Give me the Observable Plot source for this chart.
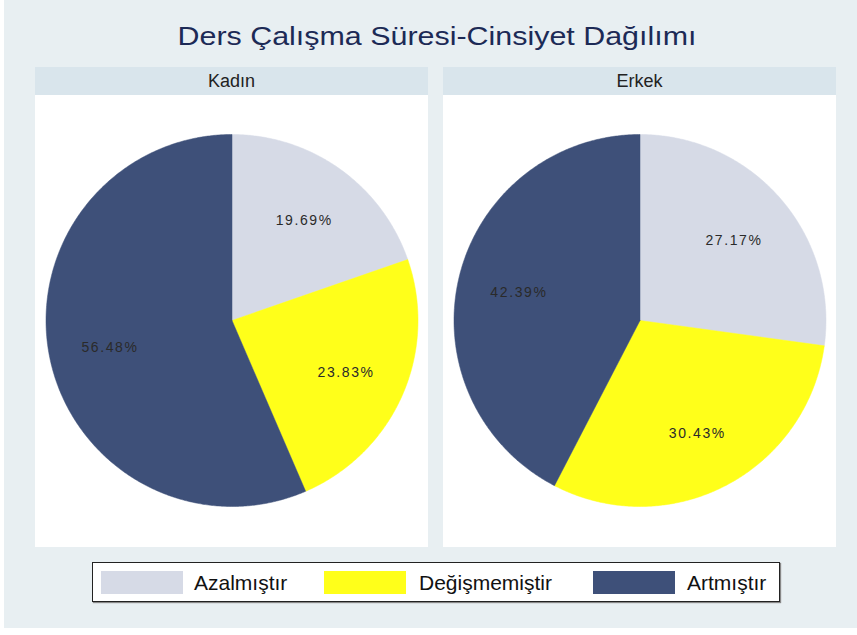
<!DOCTYPE html>
<html><head><meta charset="utf-8">
<script src="https://cdn.jsdelivr.net/npm/d3@7"></script>
<script src="https://cdn.jsdelivr.net/npm/@observablehq/plot@0.6"></script>
<style>
html,body{margin:0;padding:0;background:#fff;}
#page{position:absolute;left:4px;top:0;width:853px;height:628px;background:#e8eff2;font-family:"Liberation Sans",Arial,sans-serif;}
#title{position:absolute;left:0;width:866px;top:21px;line-height:30px;text-align:center;font-size:26px;color:#1c2a56;transform:scaleX(1.17);transform-origin:433px 0;}
.strip{position:absolute;top:67px;height:28px;width:393px;background:#d9e5ec;text-align:center;font-size:18px;line-height:29px;color:#222;}
.panel{position:absolute;top:95px;width:393px;height:452px;background:#fff;}
#legend{position:absolute;left:88px;top:562px;width:686px;height:38px;background:#fff;border:1px solid #222;box-shadow:1px 1px 1px #888;}
.sw{position:absolute;top:8px;width:82px;height:23px;}
.lt{position:absolute;top:8px;font-size:21px;line-height:23px;color:#111;}
</style></head>
<body><div id="page"></div>
<script>
const categories = ["Azalmıştır", "Değişmemiştir", "Artmıştır"];
const colors = ["#d6dae6", "#ffff1a", "#3e5079"];
const groups = ["Kadın", "Erkek"];
const kadinValues = [19.69, 23.83, 56.48];
const erkekValues = [27.17, 30.43, 42.39];
const titleText = "Ders Çalışma Süresi-Cinsiyet Dağılımı";

const page = document.getElementById("page");
const t = document.createElement("div"); t.id = "title"; t.textContent = titleText; page.appendChild(t);

const panelLeft = [31, 439];
const W = 393, H = 452, R = 186;

function pieData(values) {
  const total = d3.sum(values);
  const pts = [], labels = [];
  let acc = 0;
  values.forEach((v, i) => {
    const a0 = acc / total * 2 * Math.PI;
    acc += v;
    const a1 = acc / total * 2 * Math.PI;
    pts.push({cat: categories[i], x: 0, y: 0});
    const n = Math.max(2, Math.ceil((a1 - a0) / (Math.PI / 360)));
    for (let k = 0; k <= n; k++) {
      const a = a0 + (a1 - a0) * k / n;
      pts.push({cat: categories[i], x: Math.sin(a), y: Math.cos(a)});
    }
    pts.push({cat: categories[i], x: 0, y: 0});
    const am = (a0 + a1) / 2;
    labels.push({cat: categories[i], x: 0.67 * Math.sin(am), y: 0.67 * Math.cos(am), text: v.toFixed(2) + "%"});
  });
  return {pts, labels};
}

[kadinValues, erkekValues].forEach((vals, gi) => {
  const s = document.createElement("div"); s.className = "strip";
  s.style.left = panelLeft[gi] + "px"; s.textContent = groups[gi]; page.appendChild(s);
  const p = document.createElement("div"); p.className = "panel";
  p.style.left = panelLeft[gi] + "px"; page.appendChild(p);
  const {pts, labels} = pieData(vals);
  const chart = Plot.plot({
    width: W, height: H, margin: 0,
    x: {domain: [-W / 2 / R, W / 2 / R], axis: null},
    y: {domain: [-(H / 2 + 1) / R, (H / 2 - 1) / R], axis: null},
    color: {domain: categories, range: colors},
    style: {background: "transparent", fontFamily: "Liberation Sans, Arial, sans-serif", letterSpacing: "1.6px"},
    marks: [
      Plot.line(pts, {x: "x", y: "y", z: "cat", fill: "cat", stroke: "cat", strokeWidth: 0.5, curve: "linear"}),
      Plot.text(labels, {x: "x", y: "y", dy: 2, text: "text", fontSize: 14, fill: "#2a2a2a"})
    ]
  });
  p.appendChild(chart);
});

const lg = document.createElement("div"); lg.id = "legend"; page.appendChild(lg);
const swX = [8, 231, 500], txX = [101, 326, 594];
categories.forEach((c, i) => {
  const sw = document.createElement("div"); sw.className = "sw";
  sw.style.left = swX[i] + "px"; sw.style.background = colors[i]; lg.appendChild(sw);
  const tx = document.createElement("div"); tx.className = "lt";
  tx.style.left = txX[i] + "px"; tx.textContent = c; lg.appendChild(tx);
});
</script></body></html>
